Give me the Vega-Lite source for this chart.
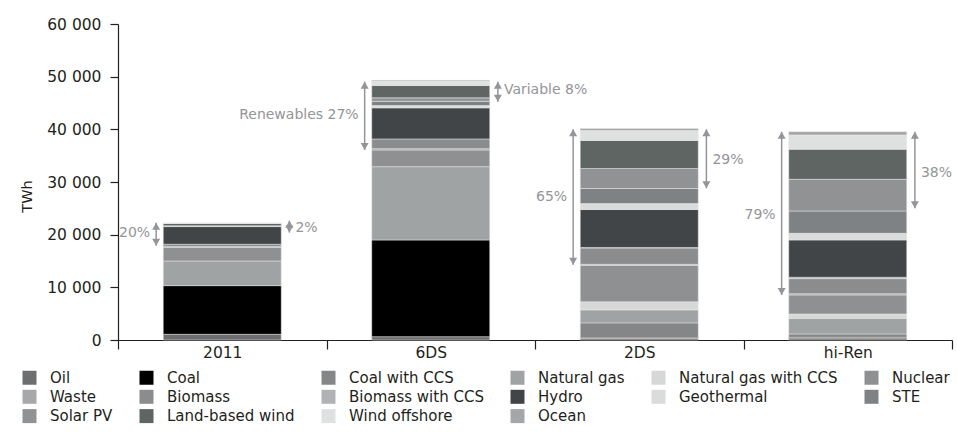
{
  "$schema": "https://vega.github.io/schema/vega-lite/v6.json",
  "autosize": {"type": "none"},
  "padding": {"left": 118, "top": 24, "right": 5, "bottom": 97},
  "width": 834,
  "height": 316,
  "background": "white",
  "config": {
    "font": "DejaVu Sans",
    "view": {"stroke": null},
    "axis": {"domainColor": "#231f20", "tickColor": "#231f20", "labelColor": "#231f20", "titleColor": "#231f20", "grid": false}
  },
  "layer": [
    {
      "data": {"values": [
        {"s": "2011", "e": "Oil", "v": 1080, "k": 1},
        {"s": "2011", "e": "Coal", "v": 9240, "k": 2},
        {"s": "2011", "e": "Natural gas", "v": 4690, "k": 4},
        {"s": "2011", "e": "Nuclear", "v": 2620, "k": 6},
        {"s": "2011", "e": "Waste", "v": 100, "k": 7},
        {"s": "2011", "e": "Biomass", "v": 450, "k": 8},
        {"s": "2011", "e": "Hydro", "v": 3350, "k": 10},
        {"s": "2011", "e": "Geothermal", "v": 80, "k": 11},
        {"s": "2011", "e": "STE", "v": 10, "k": 12},
        {"s": "2011", "e": "Solar PV", "v": 90, "k": 13},
        {"s": "2011", "e": "Land-based wind", "v": 430, "k": 14},
        {"s": "2011", "e": "Wind offshore", "v": 30, "k": 15},
        {"s": "2011", "e": "Ocean", "v": 10, "k": 16},
        {"s": "6DS", "e": "Oil", "v": 630, "k": 1},
        {"s": "6DS", "e": "Coal", "v": 18360, "k": 2},
        {"s": "6DS", "e": "Natural gas", "v": 13920, "k": 4},
        {"s": "6DS", "e": "Nuclear", "v": 3170, "k": 6},
        {"s": "6DS", "e": "Waste", "v": 250, "k": 7},
        {"s": "6DS", "e": "Biomass", "v": 1850, "k": 8},
        {"s": "6DS", "e": "Hydro", "v": 5900, "k": 10},
        {"s": "6DS", "e": "Geothermal", "v": 440, "k": 11},
        {"s": "6DS", "e": "STE", "v": 790, "k": 12},
        {"s": "6DS", "e": "Solar PV", "v": 670, "k": 13},
        {"s": "6DS", "e": "Land-based wind", "v": 2335, "k": 14},
        {"s": "6DS", "e": "Wind offshore", "v": 800, "k": 15},
        {"s": "6DS", "e": "Ocean", "v": 200, "k": 16},
        {"s": "2DS", "e": "Oil", "v": 300, "k": 1},
        {"s": "2DS", "e": "Coal", "v": 100, "k": 2},
        {"s": "2DS", "e": "Coal with CCS", "v": 2850, "k": 3},
        {"s": "2DS", "e": "Natural gas", "v": 2470, "k": 4},
        {"s": "2DS", "e": "Natural gas with CCS", "v": 1520, "k": 5},
        {"s": "2DS", "e": "Nuclear", "v": 6930, "k": 6},
        {"s": "2DS", "e": "Waste", "v": 200, "k": 7},
        {"s": "2DS", "e": "Biomass", "v": 3100, "k": 8},
        {"s": "2DS", "e": "Biomass with CCS", "v": 100, "k": 9},
        {"s": "2DS", "e": "Hydro", "v": 7200, "k": 10},
        {"s": "2DS", "e": "Geothermal", "v": 1140, "k": 11},
        {"s": "2DS", "e": "STE", "v": 2850, "k": 12},
        {"s": "2DS", "e": "Solar PV", "v": 3800, "k": 13},
        {"s": "2DS", "e": "Land-based wind", "v": 5320, "k": 14},
        {"s": "2DS", "e": "Wind offshore", "v": 1900, "k": 15},
        {"s": "2DS", "e": "Ocean", "v": 380, "k": 16},
        {"s": "hi-Ren", "e": "Oil", "v": 300, "k": 1},
        {"s": "hi-Ren", "e": "Coal", "v": 200, "k": 2},
        {"s": "hi-Ren", "e": "Coal with CCS", "v": 640, "k": 3},
        {"s": "hi-Ren", "e": "Natural gas", "v": 2980, "k": 4},
        {"s": "hi-Ren", "e": "Natural gas with CCS", "v": 815, "k": 5},
        {"s": "hi-Ren", "e": "Nuclear", "v": 3610, "k": 6},
        {"s": "hi-Ren", "e": "Waste", "v": 250, "k": 7},
        {"s": "hi-Ren", "e": "Biomass", "v": 2850, "k": 8},
        {"s": "hi-Ren", "e": "Biomass with CCS", "v": 270, "k": 9},
        {"s": "hi-Ren", "e": "Hydro", "v": 7080, "k": 10},
        {"s": "hi-Ren", "e": "Geothermal", "v": 1270, "k": 11},
        {"s": "hi-Ren", "e": "STE", "v": 4230, "k": 12},
        {"s": "hi-Ren", "e": "Solar PV", "v": 6020, "k": 13},
        {"s": "hi-Ren", "e": "Land-based wind", "v": 5700, "k": 14},
        {"s": "hi-Ren", "e": "Wind offshore", "v": 2715, "k": 15},
        {"s": "hi-Ren", "e": "Ocean", "v": 630, "k": 16}
      ]},
      "mark": {"type": "bar", "width": {"band": 0.566}, "stroke": "#e8e9e9", "strokeWidth": 0.5},
      "encoding": {
        "x": {"field": "s", "type": "nominal", "sort": ["2011", "6DS", "2DS", "hi-Ren"],
          "scale": {"paddingInner": 0, "paddingOuter": 0},
          "axis": {"title": null, "labelAngle": 0, "labelFontSize": 15.5, "labelPadding": -4, "tickSize": 9, "tickBand": "extent", "domainWidth": 1.2, "tickWidth": 1.2}},
        "y": {"field": "v", "type": "quantitative", "stack": "zero",
          "scale": {"domain": [0, 60000], "nice": false},
          "axis": {"title": "TWh", "titleFontSize": 14.5, "titleFontWeight": "normal", "titleX": -84, "titleY": 172,
            "values": [0, 10000, 20000, 30000, 40000, 50000, 60000],
            "labelExpr": "replace(format(datum.value, ','), ',', ' ')",
            "labelFontSize": 15.5, "labelPadding": 9, "tickSize": 8, "domainWidth": 1.2, "tickWidth": 1.2}},
        "order": {"field": "k", "type": "quantitative"},
        "color": {"field": "e", "type": "nominal",
          "scale": {
            "domain": ["Oil", "Coal", "Coal with CCS", "Natural gas", "Natural gas with CCS", "Nuclear", "Waste", "Biomass", "Biomass with CCS", "Hydro", "Geothermal", "STE", "Solar PV", "Land-based wind", "Wind offshore", "Ocean"],
            "range": ["#6d6e70", "#000000", "#848688", "#a0a3a4", "#d6d7d7", "#8e9092", "#a6a8a9", "#8a8c8e", "#b0b2b3", "#414548", "#dadbdb", "#7f8284", "#909294", "#5f6563", "#dfe0e0", "#a4a6a7"]},
          "legend": {"title": null, "orient": "none", "legendX": -96, "legendY": 346, "direction": "horizontal", "columns": 6,
            "columnPadding": 26, "rowPadding": 3.3, "padding": 0, "symbolType": "square", "symbolSize": 196, "symbolStrokeWidth": 0,
            "labelFontSize": 15, "labelColor": "#231f20", "labelOffset": 13, "labelLimit": 300}}
      }
    },
    {
      "data": {"name": "ann", "values": [
        {"s": "2011", "side": "L", "y1": 17900, "y2": 22270, "ym": 20260, "t": "20%"},
        {"s": "2011", "side": "R", "y1": 20400, "y2": 22650, "ym": 21265, "t": "2%"},
        {"s": "6DS", "side": "L", "y1": 36075, "y2": 49040, "ym": 42720, "t": "Renewables 27%"},
        {"s": "6DS", "side": "R", "y1": 45250, "y2": 49040, "ym": 47470, "t": "Variable 8%"},
        {"s": "2DS", "side": "L", "y1": 14300, "y2": 40000, "ym": 27150, "t": "65%"},
        {"s": "2DS", "side": "R", "y1": 28800, "y2": 40000, "ym": 34180, "t": "29%"},
        {"s": "hi-Ren", "side": "L", "y1": 8540, "y2": 39550, "ym": 23730, "t": "79%"},
        {"s": "hi-Ren", "side": "R", "y1": 25000, "y2": 39550, "ym": 31710, "t": "38%"}
      ]},
      "transform": [{"filter": "datum.side == 'L'"}],
      "encoding": {"x": {"field": "s", "type": "nominal", "sort": ["2011", "6DS", "2DS", "hi-Ren"], "bandPosition": 0.183}},
      "layer": [
        {"mark": {"type": "rule", "color": "#939598", "strokeWidth": 1.5},
          "encoding": {"y": {"field": "y1", "type": "quantitative"}, "y2": {"field": "y2"}}},
        {"mark": {"type": "point", "shape": "triangle-up", "filled": true, "color": "#939598", "size": 64, "opacity": 1, "yOffset": 3.5},
          "encoding": {"y": {"field": "y2", "type": "quantitative"}}},
        {"mark": {"type": "point", "shape": "triangle-down", "filled": true, "color": "#939598", "size": 64, "opacity": 1, "yOffset": -3.5},
          "encoding": {"y": {"field": "y1", "type": "quantitative"}}},
        {"mark": {"type": "text", "align": "right", "baseline": "middle", "dx": -6, "fontSize": 14, "color": "#939598"},
          "encoding": {"y": {"field": "ym", "type": "quantitative"}, "text": {"field": "t"}}}
      ]
    },
    {
      "data": {"name": "ann"},
      "transform": [{"filter": "datum.side == 'R'"}],
      "encoding": {"x": {"field": "s", "type": "nominal", "sort": ["2011", "6DS", "2DS", "hi-Ren"], "bandPosition": 0.822}},
      "layer": [
        {"mark": {"type": "rule", "color": "#939598", "strokeWidth": 1.5},
          "encoding": {"y": {"field": "y1", "type": "quantitative"}, "y2": {"field": "y2"}}},
        {"mark": {"type": "point", "shape": "triangle-up", "filled": true, "color": "#939598", "size": 64, "opacity": 1, "yOffset": 3.5},
          "encoding": {"y": {"field": "y2", "type": "quantitative"}}},
        {"mark": {"type": "point", "shape": "triangle-down", "filled": true, "color": "#939598", "size": 64, "opacity": 1, "yOffset": -3.5},
          "encoding": {"y": {"field": "y1", "type": "quantitative"}}},
        {"mark": {"type": "text", "align": "left", "baseline": "middle", "dx": 6, "fontSize": 14, "color": "#939598"},
          "encoding": {"y": {"field": "ym", "type": "quantitative"}, "text": {"field": "t"}}}
      ]
    }
  ]
}
